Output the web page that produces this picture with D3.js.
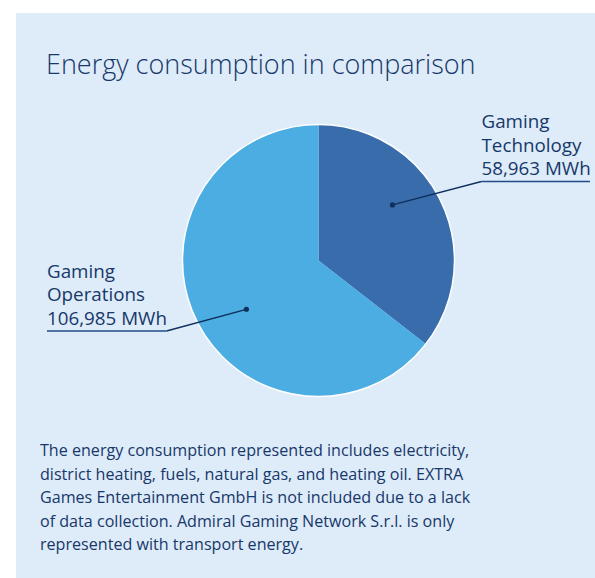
<!DOCTYPE html>
<html>
<head>
<meta charset="utf-8">
<script src="https://cdn.jsdelivr.net/npm/d3@7"></script>
<style>
  html, body { margin: 0; padding: 0; background: #ffffff; }
  svg { display: block; }
  text { font-family: "Open Sans", "Noto Sans", sans-serif; fill: #16386a; }
</style>
</head>
<body>
<svg id="chart" width="595" height="578"></svg>
<script>
// Energy consumption by segment (MWh)
const categories = ["Gaming Technology", "Gaming Operations"];
const values = [58963, 106985];
const valueLabels = ["58,963 MWh", "106,985 MWh"];
const labelLines = [["Gaming", "Technology"], ["Gaming", "Operations"]];
const colors = ["#386cab", "#4badE2"];

const title = "Energy consumption in comparison";
const footnote = [
  "The energy consumption represented includes electricity,",
  "district heating, fuels, natural gas, and heating oil. EXTRA",
  "Games Entertainment GmbH is not included due to a lack",
  "of data collection. Admiral Gaming Network S.r.l. is only",
  "represented with transport energy."
];

const W = 595, H = 578;
const svg = d3.select("#chart");

// panel background
svg.append("rect")
  .attr("x", 16).attr("y", 13)
  .attr("width", W - 16).attr("height", H - 13)
  .attr("fill", "#deebf8");

// title
svg.append("text")
  .attr("x", 46).attr("y", 74)
  .attr("font-size", 27)
  .attr("font-weight", 300)
  .text(title);

// pie
const cx = 318.5, cy = 260.5, R = 136;
const pie = d3.pie().sort(null).value(d => d);
const arcs = pie(values);
const arc = d3.arc().innerRadius(0).outerRadius(R);

const g = svg.append("g").attr("transform", `translate(${cx},${cy})`);
g.selectAll("path.slice")
  .data(arcs)
  .join("path")
  .attr("class", "slice")
  .attr("d", arc)
  .attr("fill", (d, i) => colors[i]);

g.append("circle")
  .attr("r", R)
  .attr("fill", "none")
  .attr("stroke", "#ffffff")
  .attr("stroke-width", 1.5);

// label callouts: anchor inside slice, leader to an underlined text block
const callouts = [
  { angleShift: -0.19, rFrac: 0.68, elbow: [163, -79], end: 271.5, side: "right" },
  { angleShift: -0.14, rFrac: 0.64, elbow: [-152, 70.5], end: -271.5, side: "left" }
];

arcs.forEach((a, i) => {
  const c = callouts[i];
  const mid = (a.startAngle + a.endAngle) / 2 + c.angleShift;
  const r = R * c.rFrac;
  const px = r * Math.sin(mid), py = -r * Math.cos(mid);
  const [ex, ey] = c.elbow;

  g.append("line")
    .attr("x1", px).attr("y1", py).attr("x2", ex).attr("y2", ey)
    .attr("stroke", "#0f2f5c").attr("stroke-width", 1.3);
  g.append("line")
    .attr("x1", ex).attr("y1", ey).attr("x2", c.end).attr("y2", ey)
    .attr("stroke", "#1e4d88").attr("stroke-width", 1.6);
  g.append("circle")
    .attr("cx", px).attr("cy", py).attr("r", 2.6)
    .attr("fill", "#0f2f5c");

  const tx = c.side === "right" ? ex : c.end;
  const lines = labelLines[i].concat([valueLabels[i]]);
  const t = g.append("text")
    .attr("font-size", 18.8);
  lines.forEach((s, k) => {
    t.append("tspan")
      .attr("x", tx)
      .attr("y", ey - 6.5 - (lines.length - 1 - k) * 23.5)
      .text(s);
  });
});

// footnote
const fn = svg.append("text").attr("font-size", 16.1);
footnote.forEach((s, k) => {
  fn.append("tspan")
    .attr("x", 40)
    .attr("y", 456 + k * 23.6)
    .text(s);
});
</script>
</body>
</html>
